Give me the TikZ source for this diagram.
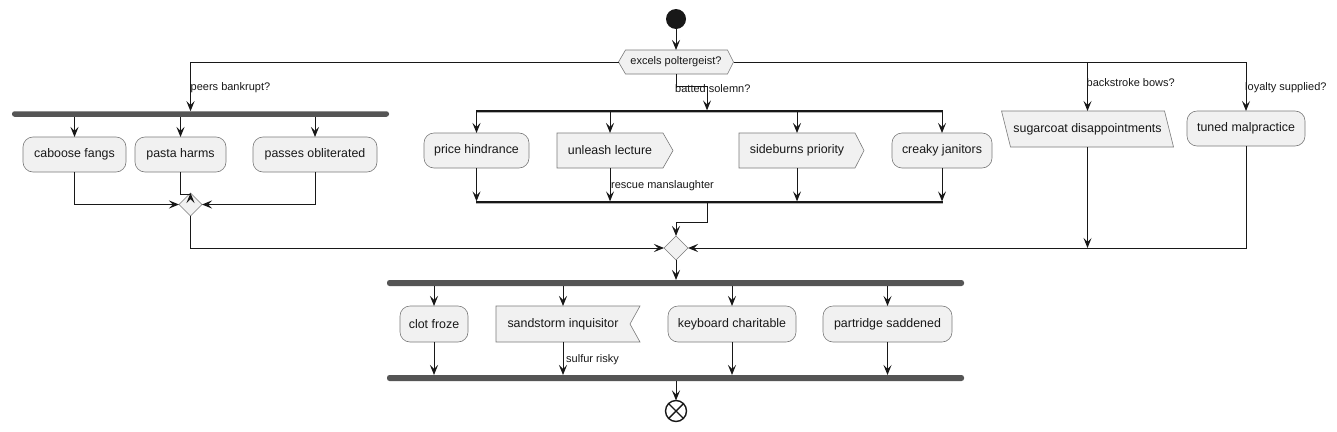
\documentclass[tikz,border=0pt]{standalone}
\usepackage{fontspec}
\setmainfont{Liberation Sans}
\usetikzlibrary{arrows.meta,backgrounds,shapes.geometric}
\definecolor{boxfill}{HTML}{F1F1F1}
\definecolor{ink}{HTML}{181818}
\definecolor{barc}{HTML}{555555}
\definecolor{boxline}{HTML}{7A7A7A}
\begin{document}
\begin{tikzpicture}[x=1pt,y=-1pt,
  task/.style={draw=boxline, fill=boxfill, line width=0.6pt, rounded corners=10pt, minimum height=35, inner sep=0pt, outer sep=0pt, font=\fontsize{12.4}{14}\selectfont, text=ink},
  plain/.style={minimum height=35, inner sep=0pt, outer sep=0pt, font=\fontsize{12.4}{14}\selectfont, text=ink},
  shp/.style={draw=boxline, fill=boxfill, line width=0.6pt},
  lbl/.style={anchor=west, inner sep=0pt, font=\fontsize{11}{13}\selectfont, text=ink},
  arr/.style={draw=ink, line width=1pt, -{Stealth[length=10pt,width=8pt,inset=4pt]}},
  forkbar/.style={fill=barc, rounded corners=2.5pt, inner sep=0pt, outer sep=0pt, minimum height=5.5},
  splitbar/.style={fill=ink, inner sep=0pt, outer sep=0pt, minimum height=1.3},
  shadowline/.style={draw=black!30, line width=1pt},
  diam/.style={diamond, draw=boxline, fill=boxfill, line width=0.6pt, inner sep=0pt, outer sep=0pt, minimum width=23, minimum height=23}
]
\begin{pgfonlayer}{background}
\fill[white] (0,0) rectangle (1337,431);
\end{pgfonlayer}
\useasboundingbox (0,0) rectangle (1337,431);

% start and decision
\node[circle, fill=ink, minimum size=20, inner sep=0pt, outer sep=0pt] (start) at (676,19) {};
\node[plain, minimum width=115, minimum height=24, font=\fontsize{11}{13}\selectfont] (dec) at (676,62) {excels poltergeist?};

% left branch
\node[forkbar, minimum width=377] (bar1) at (200.5,114) {};
\node[task, minimum width=103] (t1) at (74.5,154.5) {caboose fangs};
\node[task, minimum width=91] (t2) at (180.5,154.5) {pasta harms};
\node[task, minimum width=124] (t3) at (315,154.5) {passes obliterated};
\node[diam] (m1) at (190.5,204.5) {};

% middle branch
\node[splitbar, minimum width=467] (bar2) at (709.5,111) {};
\node[task, minimum width=105] (t4) at (476.5,150.5) {price hindrance};
\node[plain, minimum width=106] (t5) at (610,150.5) {unleash lecture};
\node[plain, minimum width=116] (t6) at (797,150.5) {sideburns priority};
\node[task, minimum width=100] (t7) at (942,150.5) {creaky janitors};
\node[splitbar, minimum width=467] (bar3) at (709.5,202) {};

% right branches
\node[plain, minimum width=172, minimum height=36] (t8) at (1087.5,129) {sugarcoat disappointments};
\node[task, minimum width=118] (t9) at (1246,128.5) {tuned malpractice};

% merge and final fork
\node[diam, minimum width=24, minimum height=24] (m2) at (676,248) {};
\node[forkbar, minimum width=577, minimum height=6] (bar4) at (675.5,283) {};
\node[task, minimum width=68, minimum height=36] (t10) at (434,324) {clot froze};
\node[plain, minimum width=134, minimum height=36] (t11) at (563,324) {sandstorm inquisitor};
\node[task, minimum width=128, minimum height=36] (t12) at (732,324) {keyboard charitable};
\node[task, minimum width=129, minimum height=36] (t13) at (887.5,324) {partridge saddened};
\node[forkbar, minimum width=577, minimum height=6] (bar5) at (675.5,378) {};
\node[circle, draw=ink, fill=white, line width=1.4pt, minimum size=21, inner sep=0pt, outer sep=0pt] (endc) at (676,411) {};
\draw[ink, line width=1.4pt] (endc.north east) -- (endc.south west) (endc.north west) -- (endc.south east);

% special shapes behind their texts
\begin{pgfonlayer}{background}
\draw[shp] (dec.west) -- ([xshift=7pt]dec.north west) -- ([xshift=-6pt]dec.north east) -- (dec.east) -- ([xshift=-6pt]dec.south east) -- ([xshift=7pt]dec.south west) -- cycle;
\draw[shp] (t5.north west) -- (t5.north east) -- ([xshift=10pt]t5.east) -- (t5.south east) -- (t5.south west) -- cycle;
\draw[shp] (t6.north west) -- (t6.north east) -- ([xshift=9pt]t6.east) -- (t6.south east) -- (t6.south west) -- cycle;
\draw[shp] (t8.north west) -- ([xshift=-9pt]t8.north east) -- (t8.south east) -- ([xshift=9pt]t8.south west) -- cycle;
\draw[shp] (t11.north west) -- ([xshift=10pt]t11.north east) -- (t11.east) -- ([xshift=10pt]t11.south east) -- (t11.south west) -- cycle;
\draw[shadowline] ([yshift=-1.4pt]bar2.west) -- ([yshift=-1.4pt]bar2.east);
\draw[shadowline] ([yshift=-1.4pt]bar3.west) -- ([yshift=-1.4pt]bar3.east);
\end{pgfonlayer}

% helper coordinates
\coordinate (c1) at (190.5,100);
\coordinate (j1) at (707,86);
\coordinate (j2) at (707,222);

% connectors
\draw[arr] (start) -- (dec.north);
\draw[arr] (dec.west) -| (c1) -- (c1 |- bar1.north);
\draw[arr] (dec.south) |- (j1) -- (j1 |- bar2.north);
\draw[arr] (dec.east) -| (t8.north);
\draw[arr] (dec.east) -| (t9.north);

\foreach \t in {t1,t2,t3} \draw[arr] (\t.north |- bar1.south) -- (\t.north);
\draw[arr] (t1.south) |- (m1.west);
\draw[arr] (t3.south) |- (m1.east);
\draw[arr] (t2.south) |- ([yshift=-1.5pt]m1.north) -- (m1.north);
\draw[arr] (m1.south) |- (m2.west);

\foreach \t in {t4,t5,t6,t7} {
  \draw[arr] (\t.north |- bar2.south) -- (\t.north);
  \draw[arr] (\t.south) -- (\t.south |- bar3.north);
}
\draw[arr] (j2 |- bar3.south) -- (j2) -| (m2.north);

\draw[arr] (t8.south) -- (t8.south |- m2.east);
\draw[arr] (t9.south) |- (m2.east);

\draw[arr] (m2.south) -- (m2.south |- bar4.north);
\foreach \t in {t10,t11,t12,t13} {
  \draw[arr] (\t.north |- bar4.south) -- (\t.north);
  \draw[arr] (\t.south) -- (\t.south |- bar5.north);
}
\draw[arr] (endc.north |- bar5.south) -- (endc.north);

% labels
\node[lbl] (l1) at (190.5,87.5) {peers bankrupt?};
\node[lbl] (l2) at (675,89) {batted solemn?};
\node[lbl] (l3) at (1086.5,82.5) {backstroke bows?};
\node[lbl] (l4) at (1245,87.5) {loyalty supplied?};
\node[lbl] (l5) at (611,186) {rescue manslaughter};
\node[lbl] (l6) at (566,360) {sulfur risky};
\end{tikzpicture}
\end{document}
